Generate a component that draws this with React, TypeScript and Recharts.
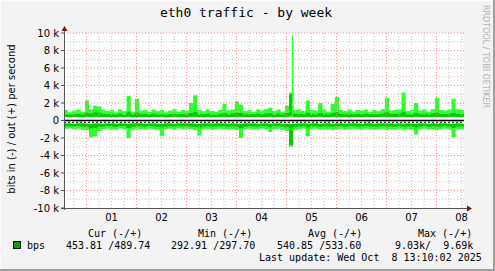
import React from "react";
import { ComposedChart, Area, Line, XAxis, YAxis, ReferenceLine, ReferenceArea } from "recharts";

// time axis: Sep 30 13:10 -> Oct 8 13:10 (192 h), samples every 2 h
const stepHours = 2;
const dayStartHour = 10 + 50 / 60; // first midnight after start
const dayLabels = ["01", "02", "03", "04", "05", "06", "07", "08"];
const yTicks = [-10000, -8000, -6000, -4000, -2000, 0, 2000, 4000, 6000, 8000, 10000];
const yMinor = [-9000, -7000, -5000, -3000, -1000, 1000, 3000, 5000, 7000, 9000];

// out (+) bits per second
const outMax = [
  1200, 950, 1150, 1250, 1000, 2300, 1300, 1700, 1600, 1250,
  1100, 1200, 950, 1250, 1100, 2800, 1000, 2500, 1150, 1200,
  1000, 1250, 1100, 1200, 950, 1150, 1300, 1000, 1200, 1150,
  2000, 2900, 1200, 1050, 1250, 1100, 1000, 1200, 1900, 1150,
  1250, 2200, 1800, 1100, 1200, 1000, 1250, 1150, 1300, 1450,
  1100, 1250, 1000, 1700, 3200, 1200, 1250, 1100, 2300, 1200,
  1150, 2000, 1250, 1000, 1900, 2700, 1200, 1100, 1250, 1000,
  1200, 1150, 1250, 1000, 1200, 1100, 1300, 2600, 1150, 1200,
  1250, 3200, 1100, 1200, 2000, 1150, 1250, 1000, 1300, 2600,
  1200, 1150, 1250, 2500, 1300, 1200, 1250,
];
const outAvg = [
  700, 650, 720, 750, 680, 900, 800, 950, 900, 750,
  700, 720, 650, 760, 700, 1000, 680, 900, 720, 740,
  680, 760, 700, 730, 650, 710, 780, 680, 730, 700,
  850, 1000, 740, 680, 760, 700, 670, 730, 850, 700,
  760, 900, 850, 700, 740, 680, 760, 710, 780, 820,
  700, 760, 680, 850, 3000, 760, 780, 700, 900, 740,
  700, 850, 760, 680, 820, 950, 740, 700, 760, 680,
  740, 710, 760, 680, 730, 700, 780, 920, 710, 740,
  760, 1000, 700, 740, 850, 710, 760, 680, 780, 900,
  740, 710, 760, 900, 780, 740, 760,
];
const outMin = [
  400, 380, 420, 400, 370, 430, 410, 440, 420, 400,
  390, 410, 380, 420, 400, 430, 380, 410, 400, 420,
  390, 410, 400, 420, 380, 400, 430, 390, 410, 400,
  420, 440, 400, 380, 410, 400, 390, 410, 420, 400,
  410, 430, 420, 400, 410, 390, 420, 400, 410, 420,
  400, 410, 390, 420, 450, 410, 420, 400, 430, 410,
  400, 420, 410, 390, 420, 430, 410, 400, 410, 390,
  410, 400, 420, 390, 410, 400, 420, 430, 400, 410,
  420, 440, 400, 410, 420, 400, 410, 390, 420, 430,
  410, 400, 420, 430, 410, 400, 410,
];
// single short burst of outgoing traffic (hour offset, peak bps)
const outPeakHour = [109.7];
const outPeakValue = [9700];

// in (-) bits per second (magnitudes)
const inMax = [
  950, 900, 1000, 950, 1050, 1100, 1900, 1800, 1200, 1000,
  950, 1000, 1050, 900, 1000, 2000, 1100, 950, 1000, 1050,
  950, 1000, 1100, 1800, 1000, 950, 1050, 900, 1000, 950,
  1000, 1100, 1700, 1000, 950, 1050, 1000, 950, 1000, 1050,
  1000, 1100, 2000, 1000, 950, 1000, 1050, 950, 1000, 1300,
  1000, 950, 1050, 1200, 3000, 1100, 1000, 950, 1800, 1000,
  950, 1050, 1000, 1000, 1100, 1000, 950, 1050, 1000, 950,
  1000, 1050, 950, 1000, 1050, 1000, 950, 1100, 1000, 1050,
  950, 1100, 1000, 1050, 1600, 1000, 950, 1050, 1000, 1100,
  1000, 950, 1050, 1900, 1000, 1050, 950,
];
const inAvg = [
  650, 620, 680, 640, 700, 720, 900, 850, 750, 680,
  640, 680, 700, 620, 660, 850, 720, 640, 660, 700,
  640, 670, 720, 800, 680, 640, 700, 620, 660, 640,
  680, 750, 800, 680, 640, 700, 660, 640, 680, 700,
  660, 720, 850, 680, 640, 660, 700, 640, 670, 760,
  660, 640, 700, 780, 2800, 720, 680, 640, 800, 680,
  640, 700, 660, 680, 720, 660, 640, 700, 660, 640,
  680, 700, 640, 660, 700, 680, 640, 720, 660, 700,
  640, 720, 660, 700, 800, 680, 640, 700, 660, 720,
  680, 640, 700, 850, 680, 700, 640,
];
const inMin = [
  350, 340, 360, 330, 350, 370, 360, 350, 340, 360,
  340, 350, 360, 330, 350, 370, 350, 340, 350, 360,
  340, 350, 360, 370, 350, 340, 360, 330, 350, 340,
  350, 360, 370, 350, 340, 360, 350, 340, 350, 360,
  350, 360, 370, 350, 340, 350, 360, 340, 350, 360,
  350, 340, 360, 370, 380, 360, 350, 340, 370, 350,
  340, 360, 350, 350, 360, 350, 340, 360, 350, 340,
  350, 360, 340, 350, 360, 350, 340, 360, 350, 360,
  340, 360, 350, 360, 370, 350, 340, 360, 350, 360,
  350, 340, 360, 370, 350, 360, 340,
];

const legendHeader = ["Cur (-/+)", "Min (-/+)", "Avg (-/+)", "Max (-/+)"];
const legendValues = ["453.81 /489.74", "292.91 /297.70", "540.85 /533.60", "9.03k/  9.69k"];
const lastUpdate = "Last update: Wed Oct  8 13:10:02 2025";

const data = outMax.map((_, i) => ({
  t: i * stepHours,
  outBand: [outMin[i], outMax[i]],
  outAvgBand: [outMin[i], outAvg[i]],
  inBand: [-inMax[i], -inMin[i]],
  inAvgBand: [-inAvg[i], -inMin[i]],
}));

const peakData = outPeakHour.flatMap((h, k) => {
  const i = Math.min(outMin.length - 1, Math.floor(h / stepHours));
  return [
    { t: h, v: outMin[i] },
    { t: h, v: outPeakValue[k] },
  ];
});

const totalHours = 192;
const xTicks = dayLabels.map((_, i) => dayStartHour + 12 + 24 * i);
const xMajor = dayLabels.map((_, i) => dayStartHour + 24 * i);
const xMinor: number[] = [];
for (let h = dayStartHour - 6; h < totalHours; h += 6) {
  if (h > 0 && Math.abs(((h - dayStartHour) % 24 + 24) % 24) > 0.01) xMinor.push(h);
}

const MONO = "'DejaVu Sans Mono', monospace";
const SANS = "'DejaVu Sans', sans-serif";
const RED = "#ff8a8a";
const GRAY = "#c4c4c4";
const AXIS = "#555";
const BRIGHT = "#2aff2a";
const MID = "#00cc00";

export default function App() {
  return (
    <div
      style={{
        position: "absolute",
        left: 0,
        top: 0,
        width: 495,
        height: 271,
        background: "#f3f3f3",
        boxSizing: "border-box",
        overflow: "hidden",
      }}
    >
      <div style={{ position: "absolute", left: 0, top: 0 }}>
        <ComposedChart
          width={495}
          height={271}
          data={data}
          margin={{ top: 33, right: 31, bottom: 43, left: 0 }}
        >
          <XAxis
            dataKey="t"
            type="number"
            domain={[0, totalHours]}
            ticks={xTicks}
            tickFormatter={(v: number) => dayLabels[xTicks.findIndex((x) => Math.abs(x - v) < 0.01)] ?? ""}
            axisLine={false}
            tickLine={false}
            tickSize={3}
            tickMargin={3}
            height={20}
            tick={{ fontFamily: SANS, fontSize: 10, fill: "#000" }}
            allowDataOverflow
          />
          <YAxis
            type="number"
            domain={[-10000, 10000]}
            ticks={yTicks}
            tickFormatter={(v: number) => (v === 0 ? "0" : `${v / 1000} k`)}
            axisLine={false}
            tickLine={{ stroke: AXIS }}
            tickSize={3}
            tickMargin={2}
            width={64}
            interval={0}
            tick={{ fontFamily: SANS, fontSize: 10, fill: "#000" }}
            allowDataOverflow
          />
          <ReferenceArea x1={0} x2={totalHours} y1={-10000} y2={10000} fill="#fff" fillOpacity={1} stroke="none" />
          {yMinor.map((v) => (
            <ReferenceLine key={"ym" + v} y={v} stroke={GRAY} strokeDasharray="1 2" />
          ))}
          {xMinor.map((v) => (
            <ReferenceLine key={"xm" + v} x={v} stroke={GRAY} strokeDasharray="1 2" />
          ))}
          {yTicks.filter((v) => v > -10000).map((v) => (
            <ReferenceLine key={"yM" + v} y={v} stroke={RED} strokeDasharray="1 2" />
          ))}
          {xMajor.map((v) => (
            <ReferenceLine key={"xM" + v} x={v} stroke={RED} strokeDasharray="1 2" />
          ))}
          <Area dataKey="outBand" type="stepAfter" stroke="none" fill={BRIGHT} fillOpacity={1} isAnimationActive={false} />
          <Area dataKey="outAvgBand" type="stepAfter" stroke="none" fill={MID} fillOpacity={1} isAnimationActive={false} />
          <Area dataKey="inBand" type="stepAfter" stroke="none" fill={BRIGHT} fillOpacity={1} isAnimationActive={false} />
          <Area dataKey="inAvgBand" type="stepAfter" stroke="none" fill={MID} fillOpacity={1} isAnimationActive={false} />
          <Line
            data={peakData}
            dataKey="v"
            type="linear"
            stroke={BRIGHT}
            strokeWidth={1.2}
            dot={false}
            activeDot={false}
            isAnimationActive={false}
          />
          <ReferenceLine y={0} stroke="#000" strokeWidth={1.5} />
          <ReferenceLine y={-200} stroke="#000" strokeDasharray="2 2" />
        </ComposedChart>
      </div>
      <svg
        width={495}
        height={271}
        style={{ position: "absolute", left: 0, top: 0, pointerEvents: "none" }}
      >
        {/* frame */}
        <line x1={0} y1={0.5} x2={495} y2={0.5} stroke="#fcfcfc" />
        <line x1={0.5} y1={0} x2={0.5} y2={271} stroke="#fcfcfc" />
        <rect x={493} y={0} width={2} height={271} fill="#9e9e9e" />
        <rect x={0} y={269} width={495} height={2} fill="#9e9e9e" />
        {/* axes */}
        <line x1={64.5} y1={29} x2={64.5} y2={210} stroke={AXIS} />
        <line x1={61} y1={208.5} x2={468} y2={208.5} stroke={AXIS} />
        <polygon points="61.5,31 64.5,26 67.5,31" fill="#7a1414" />
        <polygon points="467,205.5 472,208.5 467,211.5" fill="#7a1414" />
        {/* title */}
        <text x={246} y={17} textAnchor="middle" fontFamily={MONO} fontSize={13} fill="#000">
          eth0 traffic - by week
        </text>
        {/* y label */}
        <text
          transform="translate(15,119) rotate(-90)"
          textAnchor="middle"
          fontFamily={SANS}
          fontSize={10}
          fill="#000"
        >
          bits in (-) / out (+) per second
        </text>
        {/* watermark */}
        <text
          transform="translate(483,5) rotate(90)"
          fontFamily={SANS}
          fontSize={8}
          fill="#b0b0b0"
          textLength={103}
          lengthAdjust="spacingAndGlyphs"
        >
          RRDTOOL / TOBI OETIKER
        </text>
        {/* legend */}
        <g fontFamily={MONO} fontSize={10} fill="#000" style={{ whiteSpace: "pre" }}>
          <text x={88} y={236.5} xmlSpace="preserve">{legendHeader[0]}</text>
          <text x={198} y={236.5} xmlSpace="preserve">{legendHeader[1]}</text>
          <text x={308} y={236.5} xmlSpace="preserve">{legendHeader[2]}</text>
          <text x={418} y={236.5} xmlSpace="preserve">{legendHeader[3]}</text>
          <rect x={13.5} y={241.5} width={7} height={7} fill="#00a800" stroke="#000" />
          <text x={27} y={249} xmlSpace="preserve">bps</text>
          <text x={66} y={249} xmlSpace="preserve">{legendValues[0]}</text>
          <text x={171} y={249} xmlSpace="preserve">{legendValues[1]}</text>
          <text x={277} y={249} xmlSpace="preserve">{legendValues[2]}</text>
          <text x={395} y={249} xmlSpace="preserve">{legendValues[3]}</text>
          <text x={259} y={261} xmlSpace="preserve">{lastUpdate}</text>
        </g>
      </svg>
    </div>
  );
}
